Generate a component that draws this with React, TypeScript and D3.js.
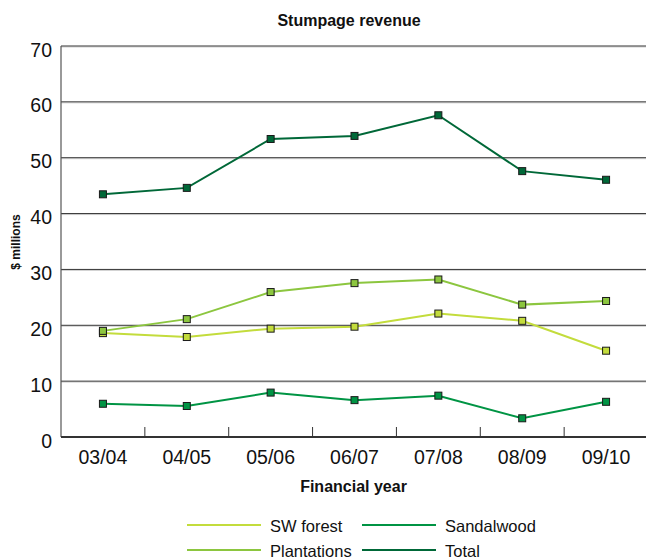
import React from "react";
import * as d3 from "d3";

const categories = ["03/04", "04/05", "05/06", "06/07", "07/08", "08/09", "09/10"];
const swForest = [18.6, 17.9, 19.4, 19.75, 22.1, 20.8, 15.45];
const plantations = [19.0, 21.1, 25.95, 27.55, 28.2, 23.7, 24.35];
const sandalwood = [5.95, 5.55, 7.95, 6.6, 7.4, 3.35, 6.3];
const total = [43.45, 44.6, 53.35, 53.9, 57.6, 47.6, 46.05];
const yTicks = [0, 10, 20, 30, 40, 50, 60, 70];

const series = [
  { name: "SW forest", values: swForest, color: "#c3dc3c" },
  { name: "Plantations", values: plantations, color: "#8cc63f" },
  { name: "Sandalwood", values: sandalwood, color: "#009444" },
  { name: "Total", values: total, color: "#006838" },
];

const W = 646;
const H = 559;
const left = 61;
const right = 648;
const top = 46;
const bottom = 437;
const font = "'Liberation Sans', Arial, Helvetica, sans-serif";

export default function App() {
  const x = d3.scaleBand<string>().domain(categories).range([left, right]);
  const y = d3.scaleLinear().domain([0, 70]).range([bottom, top]);
  const line = d3
    .line<number>()
    .x((_, i) => (x(categories[i]) as number) + x.bandwidth() / 2)
    .y((d) => y(d));

  const legend = [
    { s: series[0], lx: 187, ly: 525 },
    { s: series[2], lx: 362, ly: 525 },
    { s: series[1], lx: 187, ly: 550 },
    { s: series[3], lx: 362, ly: 550 },
  ];

  return (
    <svg
      width={W}
      height={H}
      style={{ position: "absolute", left: 0, top: 0, background: "#fff", fontFamily: font }}
    >
      <text x={349} y={26} textAnchor="middle" fontSize={16} fontWeight="bold" fill="#111">
        Stumpage revenue
      </text>

      {/* horizontal gridlines */}
      {yTicks.map((t) =>
        t === 0 ? null : (
          <g key={t}>
            <line x1={left} x2={W} y1={y(t) + 1} y2={y(t) + 1} stroke="#d0d0d0" strokeWidth={1} />
            <line x1={left} x2={W} y1={y(t)} y2={y(t)} stroke="#333" strokeWidth={1} />
          </g>
        )
      )}

      {/* y tick labels */}
      {yTicks.map((t) => (
        <text key={t} x={52} y={y(t) + 10.5} textAnchor="end" fontSize={19.5} fill="#111">
          {t}
        </text>
      ))}

      {/* axes */}
      <line x1={left} x2={left} y1={top} y2={bottom} stroke="#555" strokeWidth={1.2} />
      <line x1={left} x2={W} y1={bottom} y2={bottom} stroke="#333" strokeWidth={2} />
      {categories.slice(1).map((c) => (
        <line
          key={c}
          x1={x(c) as number}
          x2={x(c) as number}
          y1={bottom}
          y2={bottom - 10}
          stroke="#333"
          strokeWidth={1}
        />
      ))}

      {/* x tick labels */}
      {categories.map((c) => (
        <text
          key={c}
          x={(x(c) as number) + x.bandwidth() / 2}
          y={464}
          textAnchor="middle"
          fontSize={19.5}
          fill="#111"
        >
          {c}
        </text>
      ))}

      <text x={353.5} y={492} textAnchor="middle" fontSize={16} fontWeight="bold" fill="#111">
        Financial year
      </text>
      <text
        transform={`translate(20, 242) rotate(-90)`}
        textAnchor="middle"
        fontSize={12}
        fontWeight="bold"
        fill="#111"
      >
        $ millions
      </text>

      {/* series */}
      {series.map((s) => (
        <g key={s.name}>
          <path d={line(s.values) as string} fill="none" stroke={s.color} strokeWidth={2} />
          {s.values.map((v, i) => (
            <rect
              key={i}
              x={(x(categories[i]) as number) + x.bandwidth() / 2 - 3.5}
              y={y(v) - 3.5}
              width={7}
              height={7}
              fill={s.color}
              stroke="#1a1a1a"
              strokeWidth={1}
            />
          ))}
        </g>
      ))}

      {/* legend */}
      {legend.map(({ s, lx, ly }) => (
        <g key={s.name}>
          <line x1={lx} x2={lx + 74} y1={ly} y2={ly} stroke={s.color} strokeWidth={2} />
          <text x={lx + 83} y={ly + 6.5} fontSize={16.5} fill="#111">
            {s.name}
          </text>
        </g>
      ))}
    </svg>
  );
}
